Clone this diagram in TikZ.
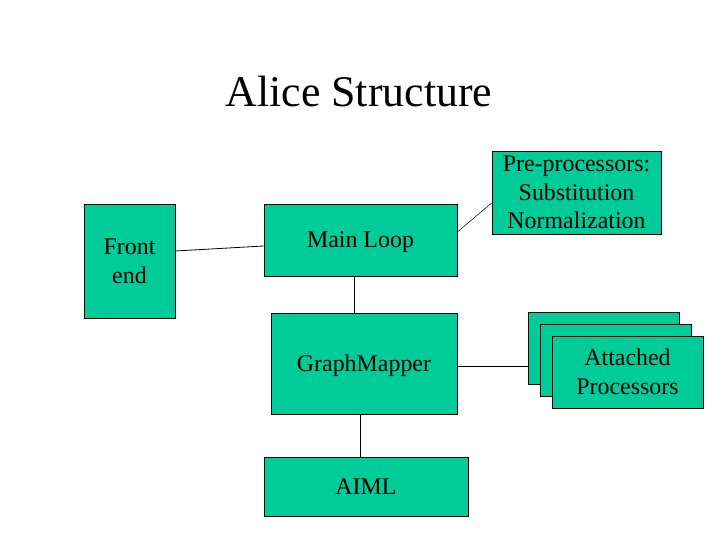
\documentclass[tikz,border=0pt]{standalone}
\usepackage{fontspec}
\setmainfont{Liberation Serif}
\usepackage{xcolor}
\usetikzlibrary{positioning}
\usetikzlibrary{calc}
\definecolor{slidegreen}{RGB}{0,204,153}
\tikzstyle{block}=[rectangle,draw=black,fill=slidegreen,line width=0.8bp,inner sep=0pt,align=center,font=\fontsize{24}{28.8}\selectfont]
\tikzstyle{oneline}=[text depth=0pt]
\tikzstyle{manyline}=[]
\tikzstyle{link} = [draw,line width=0.8bp]
\tikzstyle{thinlink} = [draw,line width=0.5bp]
\tikzset{title/.style={font=\fontsize{44}{52}\selectfont,anchor=base}}

\begin{document}
\begin{tikzpicture}[x=1bp,y=-1bp]

 \useasboundingbox (0,0) rectangle (720,540);

 \node[title] (head) at (359,107) {Alice Structure};

 %stacked processors, back to front
   \foreach \x/\y/\name in {603.5/348/att1, 615.5/360/att2}
          \node[block,minimum width=151bp,minimum height=72bp] (\name) at (\x,\y) {};

 %blocks
   \foreach \x/\y/\w/\h/\name/\kind/\label in {129.5/261/91/114/front/manyline/{Front\\end},
          360.5/240/193/72/main/oneline/{Main Loop},
          364/363.5/186/101/graph/oneline/{GraphMapper},
          366/486.5/204/59/aiml/oneline/{AIML},
          576.5/192.5/169/83/pre/manyline/{Pre-processors:\\Substitution\\Normalization},
          627.5/372/151/72/att3/manyline/{Attached\\Processors}}
          \node[block,\kind,minimum width=\w bp,minimum height=\h bp] (\name) at (\x,\y) {\label};

 %connectors
 \path[link] ([yshift=10bp]front.east) -- ([yshift=-6bp]main.west);
 \path[thinlink] ([yshift=8bp]main.east) -- ([yshift=-10.5bp]pre.west);
 \path[link] ([xshift=-6.5bp]main.south) -- ([xshift=-6.5bp]main.south |- graph.north);
 \path[link] ([xshift=-4bp]graph.south) -- ([xshift=-4bp]graph.south |- aiml.north);
 \path[link] ([yshift=-3bp]graph.east) -- ([yshift=-3bp]graph.east -| att1.west);

\end{tikzpicture}
\end{document}
